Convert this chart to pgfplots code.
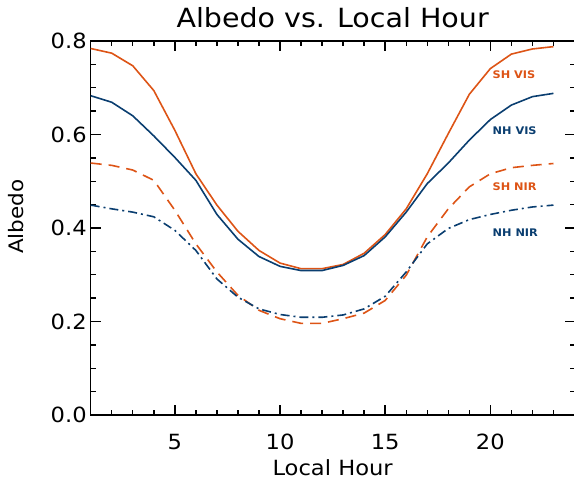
\documentclass[border=0pt]{standalone}
\usepackage{fontspec}
\setmainfont{DejaVu Sans}[FakeStretch=1.08]
\usepackage{pgfplots}
\pgfplotsset{compat=1.18}
\definecolor{shorange}{RGB}{221,84,22}
\definecolor{nhblue}{RGB}{10,62,112}

% albedo by local hour
\pgfplotstableread{
h   shvis  nhvis  shnir  nhnir
1   0.784  0.683  0.539  0.449
2   0.774  0.669  0.534  0.441
3   0.747  0.640  0.524  0.434
4   0.694  0.597  0.502  0.424
5   0.609  0.551  0.438  0.395
6   0.516  0.502  0.366  0.352
7   0.449  0.429  0.306  0.291
8   0.393  0.376  0.256  0.252
9   0.352  0.339  0.224  0.227
10  0.325  0.318  0.206  0.215
11  0.313  0.309  0.196  0.209
12  0.313  0.309  0.196  0.209
13  0.322  0.320  0.206  0.214
14  0.346  0.341  0.218  0.227
15  0.386  0.381  0.245  0.254
16  0.441  0.434  0.299  0.306
17  0.516  0.495  0.381  0.366
18  0.602  0.539  0.441  0.399
19  0.686  0.588  0.488  0.418
20  0.741  0.632  0.516  0.429
21  0.772  0.663  0.529  0.438
22  0.783  0.681  0.534  0.445
23  0.788  0.688  0.538  0.449
}\albedo

\begin{document}
\begin{tikzpicture}
\path[use as bounding box] (-90.7bp,-66bp) rectangle (483.3bp,415bp);
\begin{axis}[
  at={(0,0)}, anchor=south west,
  scale only axis,
  width=483.8bp, height=374bp,
  xmin=1, xmax=24, ymin=0, ymax=0.8,
  xtick={5,10,15,20},
  minor xtick={1,...,24},
  ytick={0,0.2,0.4,0.6,0.8},
  minor ytick={0,0.05,...,0.8},
  xtick pos=both, ytick pos=both,
  tick align=inside,
  major tick length=10bp, minor tick length=5bp,
  axis line style={line width=1.4bp},
  every tick/.style={black, line width=1.4bp},
  /pgf/number format/assume math mode=true,
  yticklabel={\pgfmathprintnumber[fixed,precision=1,zerofill]{\tick}},
  tick label style={font=\fontsize{21}{24}\selectfont},
  xticklabel style={anchor=base, yshift=-34.5bp},
  yticklabel style={xshift=-0.5bp},
  xlabel={Local Hour},
  ylabel={Albedo},
  title={Albedo vs. Local Hour},
  every axis x label/.style={at={(rel axis cs:0.5,-0.163)}, anchor=base, inner sep=0pt, font=\fontsize{21}{24}\selectfont},
  every axis y label/.style={at={(rel axis cs:-0.1546,0.53)}, anchor=center, rotate=90, font=\fontsize{20}{24}\selectfont},
  every axis title/.style={at={(rel axis cs:0.5,1.0348)}, anchor=base, font=\fontsize{26.5}{30}\selectfont},
  clip=false,
]
\addplot[shorange, line width=1.6bp] table[x=h, y=shvis] {\albedo};
\addplot[nhblue, line width=1.6bp] table[x=h, y=nhvis] {\albedo};
\addplot[shorange, line width=1.6bp, dash pattern=on 11bp off 7bp] table[x=h, y=shnir] {\albedo};
\addplot[nhblue, line width=1.6bp, dash pattern=on 9bp off 4bp on 2bp off 4bp] table[x=h, y=nhnir] {\albedo};

\node[anchor=west, inner sep=0, text=shorange, font=\fontsize{10.5}{12}\selectfont\bfseries] at (axis cs:20.1,0.727) {SH VIS};
\node[anchor=west, inner sep=0, text=nhblue, font=\fontsize{10.5}{12}\selectfont\bfseries] at (axis cs:20.1,0.608) {NH VIS};
\node[anchor=west, inner sep=0, text=shorange, font=\fontsize{10.5}{12}\selectfont\bfseries] at (axis cs:20.1,0.489) {SH NIR};
\node[anchor=west, inner sep=0, text=nhblue, font=\fontsize{10.5}{12}\selectfont\bfseries] at (axis cs:20.1,0.389) {NH NIR};
\end{axis}
\end{tikzpicture}
\end{document}
